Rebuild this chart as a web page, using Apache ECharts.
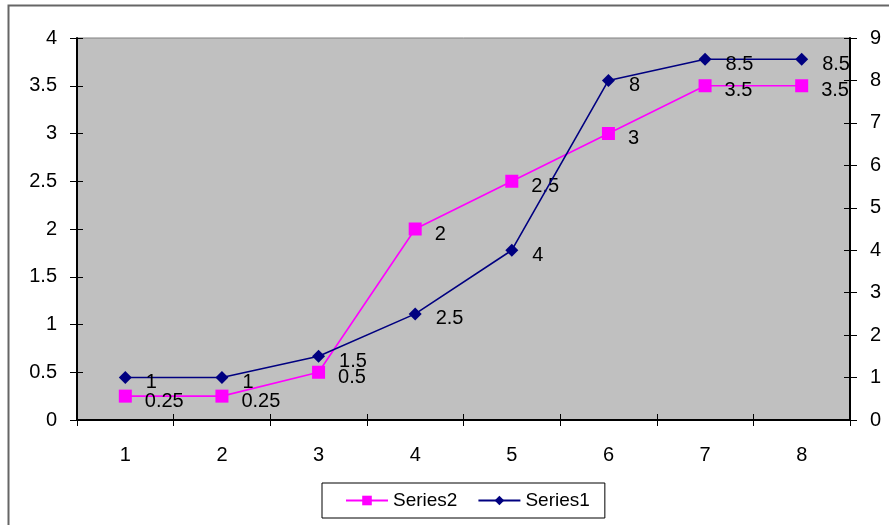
<!DOCTYPE html>
<html>
<head>
<meta charset="utf-8">
<script src="https://cdn.jsdelivr.net/npm/echarts@6/dist/echarts.min.js"></script>
<style>html,body{margin:0;padding:0;background:#fff;}#c{width:889px;height:525px;}</style>
</head>
<body>
<div id="c"></div>
<script>
var categories = ['1','2','3','4','5','6','7','8'];
var series2Values = [0.25, 0.25, 0.5, 2, 2.5, 3, 3.5, 3.5];
var series1Values = [1, 1, 1.5, 2.5, 4, 8, 8.5, 8.5];
var leftTicks = {min: 0, max: 4, interval: 0.5};
var rightTicks = {min: 0, max: 9, interval: 1};

var FONT = '"Liberation Sans", Arial, sans-serif';
var FS = 20;
var chart = echarts.init(document.getElementById('c'), null, {renderer: 'canvas'});
var axisLine = {show: true, lineStyle: {color: '#000', width: 2}};
var option = {
  backgroundColor: '#fff',
  animation: false,
  textStyle: {fontFamily: FONT},
  graphic: [{
    type: 'rect', silent: true, z: -10,
    shape: {x: 8.5, y: 5.5, width: 950, height: 700},
    style: {fill: 'none', stroke: '#666', lineWidth: 2}
  }],
  grid: {left: 77, right: 39, top: 38, bottom: 105, show: true,
         backgroundColor: '#c0c0c0', borderColor: '#808080', borderWidth: 1},
  legend: {
    left: 322, top: 483, orient: 'horizontal',
    data: ['Series2', 'Series1'],
    itemWidth: 42, itemHeight: 12, itemGap: 20,
    padding: [8, 15, 8, 23],
    borderColor: '#000', borderWidth: 1,
    textStyle: {fontSize: 19, color: '#000', fontFamily: FONT}
  },
  xAxis: [{
    type: 'category', data: categories, boundaryGap: true,
    axisLine: axisLine,
    axisTick: {show: true, alignWithLabel: false, length: 6, lineStyle: {color: '#000', width: 1}},
    axisLabel: {color: '#000', fontSize: FS, margin: 25, fontFamily: FONT},
    splitLine: {show: false}
  }, {
    type: 'category', data: categories, boundaryGap: true, position: 'bottom',
    axisLine: {show: false},
    axisTick: {show: true, inside: true, alignWithLabel: false, length: 6, lineStyle: {color: '#000', width: 1}},
    axisLabel: {show: false}, splitLine: {show: false}
  }],
  yAxis: [{
    type: 'value', position: 'left', min: leftTicks.min, max: leftTicks.max, interval: leftTicks.interval,
    axisLine: axisLine,
    axisTick: {show: true, length: 7, lineStyle: {color: '#000', width: 1}},
    axisLabel: {color: '#000', fontSize: FS, margin: 20, fontFamily: FONT},
    splitLine: {show: false}
  }, {
    type: 'value', position: 'right', min: rightTicks.min, max: rightTicks.max, interval: rightTicks.interval,
    axisLine: axisLine,
    axisTick: {show: true, length: 7, lineStyle: {color: '#000', width: 1}},
    axisLabel: {color: '#000', fontSize: FS, margin: 20, fontFamily: FONT},
    splitLine: {show: false}
  }, {
    type: 'value', position: 'left', min: leftTicks.min, max: leftTicks.max, interval: leftTicks.interval,
    axisLine: {show: false},
    axisTick: {show: true, inside: true, length: 6, lineStyle: {color: '#000', width: 1}},
    axisLabel: {show: false}, splitLine: {show: false}
  }, {
    type: 'value', position: 'right', min: rightTicks.min, max: rightTicks.max, interval: rightTicks.interval,
    axisLine: {show: false},
    axisTick: {show: true, inside: true, length: 6, lineStyle: {color: '#000', width: 1}},
    axisLabel: {show: false}, splitLine: {show: false}
  }],
  series: [{
    name: 'Series2', type: 'line', yAxisIndex: 0, data: series2Values,
    symbol: 'rect', symbolSize: 13,
    lineStyle: {color: '#ff00ff', width: 1.6},
    itemStyle: {color: '#ff00ff'},
    label: {show: true, position: 'right', distance: 13, offset: [0, 5],
            color: '#000', fontSize: FS, fontFamily: FONT},
    z: 3
  }, {
    name: 'Series1', type: 'line', yAxisIndex: 1, data: series1Values,
    symbol: 'diamond', symbolSize: 13,
    lineStyle: {color: '#000080', width: 1.6},
    itemStyle: {color: '#000080'},
    label: {show: true, position: 'right', distance: 14, offset: [0, 5],
            color: '#000', fontSize: FS, fontFamily: FONT},
    z: 4
  }]
};
chart.setOption(option);
</script>
</body>
</html>
